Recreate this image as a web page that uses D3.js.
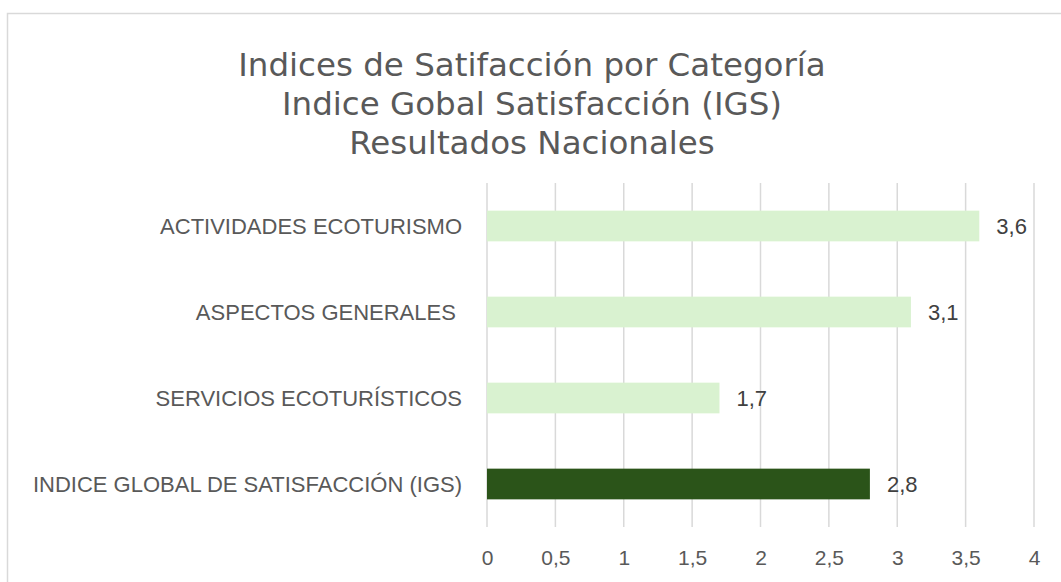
<!DOCTYPE html>
<html>
<head>
<meta charset="utf-8">
<script src="https://cdn.jsdelivr.net/npm/d3@7"></script>
<style>
  html, body { margin: 0; padding: 0; background: #fff; }
  svg { display: block; }
</style>
</head>
<body>
<svg id="chart" width="1061" height="582"></svg>
<script>
const titleLines = [
  "Indices de Satifacción por Categoría",
  "Indice Gobal Satisfacción (IGS)",
  "Resultados Nacionales"
];
const categories = [
  "ACTIVIDADES ECOTURISMO",
  "ASPECTOS GENERALES ",
  "SERVICIOS ECOTURÍSTICOS",
  "INDICE GLOBAL DE SATISFACCIÓN (IGS)"
];
const values = [3.6, 3.1, 1.7, 2.8];
const highlight = [false, false, false, true];
const tickValues = [0, 0.5, 1, 1.5, 2, 2.5, 3, 3.5, 4];
const tickLabels = ["0", "0,5", "1", "1,5", "2", "2,5", "3", "3,5", "4"];

const svg = d3.select("#chart");
const FONT = "'Liberation Sans', Arial, sans-serif";

// chart area border (extends past right/bottom edge)
svg.append("rect")
  .attr("x", 7.5).attr("y", 13.5)
  .attr("width", 1200).attr("height", 700)
  .attr("fill", "#fff")
  .attr("stroke", "#d9d9d9")
  .attr("stroke-width", 1.5);

// title
svg.append("g").selectAll("text")
  .data(titleLines)
  .join("text")
  .attr("x", 532)
  .attr("y", (d, i) => 76 + i * 39)
  .attr("text-anchor", "middle")
  .attr("font-family", "'DejaVu Sans', Verdana, sans-serif")
  .attr("font-size", 32.5)
  .attr("fill", "#595959")
  .text(d => d);

const plot = { left: 487, right: 1034, top: 183, bottom: 527 };

const x = d3.scaleLinear().domain([0, 4]).range([plot.left, plot.right]);
const y = d3.scaleBand()
  .domain(categories)
  .range([plot.top, plot.bottom])
  .paddingInner(0.643)
  .paddingOuter(0.3215);

// gridlines
svg.append("g").selectAll("line")
  .data(tickValues)
  .join("line")
  .attr("x1", d => x(d)).attr("x2", d => x(d))
  .attr("y1", plot.top).attr("y2", plot.bottom)
  .attr("stroke", "#d9d9d9")
  .attr("stroke-width", 1.5);

// x axis labels
const xAxis = d3.axisBottom(x)
  .tickValues(tickValues)
  .tickFormat((d, i) => tickLabels[i])
  .tickSize(0)
  .tickPadding(0);
const gx = svg.append("g")
  .attr("transform", `translate(0,${plot.bottom})`)
  .call(xAxis);
gx.select(".domain").remove();
gx.selectAll("text")
  .attr("y", 38)
  .attr("dy", null)
  .attr("font-family", FONT)
  .attr("font-size", 21)
  .attr("fill", "#595959");

// y axis labels
const yAxis = d3.axisLeft(y).tickSize(0).tickPadding(0);
const gy = svg.append("g")
  .attr("transform", `translate(462,0)`)
  .call(yAxis);
gy.select(".domain").remove();
gy.selectAll("text")
  .attr("x", 0)
  .attr("dy", "0.36em")
  .attr("font-family", FONT)
  .attr("font-size", 22)
  .attr("fill", "#595959")
  .style("white-space", "pre")
  .attr("xml:space", "preserve");

// bars
svg.append("g").selectAll("rect")
  .data(categories)
  .join("rect")
  .attr("x", x(0))
  .attr("y", d => y(d))
  .attr("width", (d, i) => x(values[i]) - x(0))
  .attr("height", y.bandwidth())
  .attr("fill", (d, i) => highlight[i] ? "#2b5419" : "#d9f2d0");

// value labels
svg.append("g").selectAll("text")
  .data(categories)
  .join("text")
  .attr("x", (d, i) => x(values[i]) + 17)
  .attr("y", d => y(d) + y.bandwidth() / 2)
  .attr("dy", "0.36em")
  .attr("font-family", FONT)
  .attr("font-size", 22)
  .attr("fill", "#404040")
  .text((d, i) => String(values[i]).replace(".", ","));
</script>
</body>
</html>
